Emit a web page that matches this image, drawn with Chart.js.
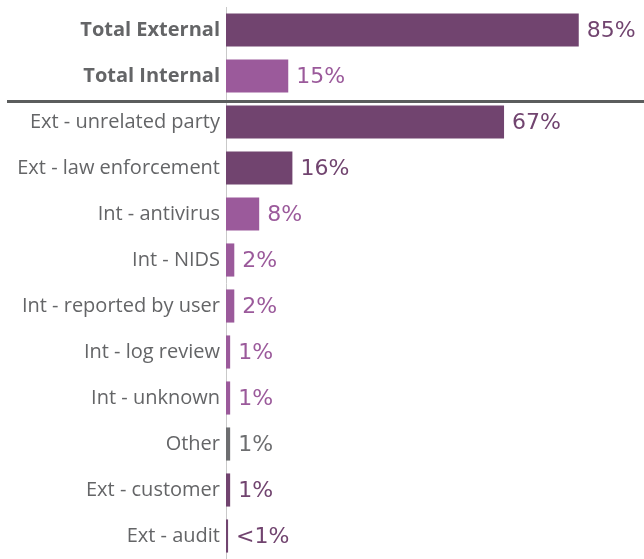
<!DOCTYPE html>
<html lang="en">
<head>
    <meta charset="utf-8">
    <title>Discovery method</title>
    <style>
        html, body { margin: 0; padding: 0; background: #ffffff; overflow: hidden; }
        #chart { display: block; }
    </style>
</head>
<body>
    <canvas id="chart" width="644" height="559"></canvas>

    <script src="https://cdn.jsdelivr.net/npm/chart.js"></script>
    <script>
        // data
        const categories = [
            'Total External', 'Total Internal',
            'Ext - unrelated party', 'Ext - law enforcement', 'Int - antivirus',
            'Int - NIDS', 'Int - reported by user', 'Int - log review',
            'Int - unknown', 'Other', 'Ext - customer', 'Ext - audit'
        ];
        const values = [85, 15, 67, 16, 8, 2, 2, 1, 1, 1, 1, 0.5];
        const valueLabels = ['85%', '15%', '67%', '16%', '8%', '2%', '2%', '1%', '1%', '1%', '1%', '<1%'];
        const groups = ['ext', 'int', 'ext', 'ext', 'int', 'int', 'int', 'int', 'int', 'other', 'ext', 'ext'];

        const groupColor = { ext: '#71446f', int: '#9b5a9b', other: '#6d6e70' };
        const barColors = groups.map(g => groupColor[g]);

        // value labels at the end of each bar + separator line under the totals
        const extrasPlugin = {
            id: 'extras',
            afterDatasetsDraw(chart) {
                const ctx = chart.ctx;
                const meta = chart.getDatasetMeta(0);
                ctx.save();
                ctx.font = '22px "DejaVu Sans"';
                ctx.textBaseline = 'middle';
                ctx.textAlign = 'left';
                meta.data.forEach((bar, i) => {
                    ctx.fillStyle = barColors[i];
                    ctx.fillText(valueLabels[i], bar.x + 8, bar.y + 1);
                });

                const y = chart.scales.y;
                const sepY = (y.getPixelForTick(1) + y.getPixelForTick(2)) / 2 + 2.5;
                ctx.strokeStyle = '#5b5d5d';
                ctx.lineWidth = 3;
                ctx.beginPath();
                ctx.moveTo(7, sepY);
                ctx.lineTo(chart.width, sepY);
                ctx.stroke();
                ctx.restore();
            }
        };

        const chart = new Chart(document.getElementById('chart').getContext('2d'), {
            type: 'bar',
            data: {
                labels: categories,
                datasets: [{
                    data: values,
                    backgroundColor: barColors,
                    borderWidth: 0,
                    barPercentage: 0.72,
                    categoryPercentage: 1
                }]
            },
            options: {
                indexAxis: 'y',
                responsive: false,
                animation: false,
                layout: { padding: { top: 7, right: 3, bottom: 0, left: 0 } },
                plugins: {
                    legend: { display: false },
                    tooltip: { enabled: false }
                },
                scales: {
                    x: {
                        display: false,
                        min: 0,
                        max: 100
                    },
                    y: {
                        afterFit(scale) {
                            scale.width = 226;
                            scale.paddingTop = 0;
                            scale.paddingBottom = 0;
                        },
                        grid: { display: false, drawTicks: false },
                        border: { display: true, color: '#c9c9c9', width: 1 },
                        ticks: {
                            padding: 6,
                            color: '#646567',
                            font: ctx => ({
                                family: 'Open Sans',
                                size: 20,
                                weight: ctx.index < 2 ? 'bold' : 'normal'
                            })
                        }
                    }
                }
            },
            plugins: [extrasPlugin]
        });
    </script>
</body>
</html>
